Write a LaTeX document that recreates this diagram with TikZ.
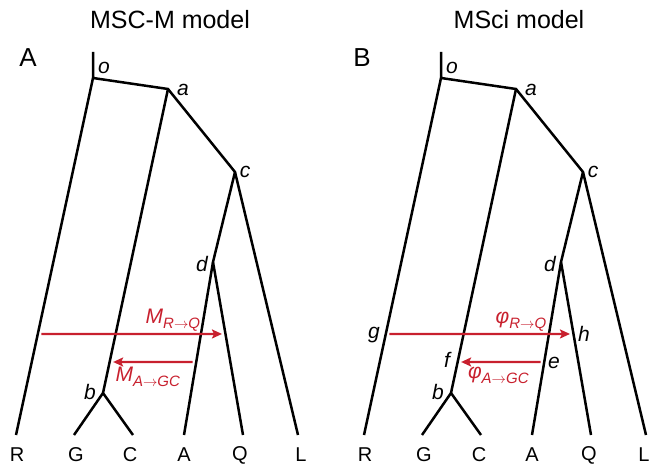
\documentclass[tikz,border=0pt]{standalone}
\usepackage{fontspec}
\setmainfont{Liberation Sans}
\usetikzlibrary{calc,arrows.meta}
\definecolor{migred}{RGB}{200,32,46}
\newcommand{\miglab}[3]{{\fontsize{21}{21}\selectfont\itshape #1}\raisebox{-5pt}{\fontsize{15}{15}\selectfont\itshape #2$\to$#3}}

\begin{document}
\begin{tikzpicture}[x=1pt, y=-1pt,
  branch/.style={line width=2.5pt, line join=miter},
  mig/.style={migred, line width=2.2pt, -{Stealth[length=10pt, width=9pt, inset=2pt]}, shorten <=3.5pt, shorten >=3.5pt},
  taxon/.style={font=\fontsize{20}{20}\selectfont, inner sep=0pt},
  lab/.style={font=\fontsize{21}{21}\selectfont\itshape, inner sep=0pt},
  miglabel/.style={text=migred, inner sep=0pt},
  title/.style={font=\fontsize{25}{25}\selectfont, inner sep=0pt},
  panel/.style={font=\fontsize{26}{26}\selectfont, inner sep=0pt}]

\useasboundingbox (0,0) rectangle (652,470);

% Titles and panel letters
\node[title] (titleA) at (170,20) {MSC-M model};
\node[title] (titleB) at (519,20) {MSci model};
\node[panel] (panelA) at (28,58) {A};
\node[panel] (panelB) at (362,58) {B};

% Define tree points, panel A
\coordinate (t1) at (93,52);
\coordinate (o1) at (93,78);
\coordinate (a1) at (168,89);
\coordinate (c1) at (235,172);
\coordinate (d1) at (213,262);
\coordinate (b1) at (103,393);
\coordinate (R1) at (16,435);
\coordinate (G1) at (74,435);
\coordinate (C1) at (133,435);
\coordinate (A1) at (184,435);
\coordinate (Q1) at (243,435);
\coordinate (L1) at (298,435);
\coordinate (g1) at ($(o1)!0.717!(R1)$);
\coordinate (h1) at ($(d1)!0.416!(Q1)$);
\coordinate (f1) at ($(a1)!0.898!(b1)$);
\coordinate (e1) at ($(d1)!0.578!(A1)$);

% Define tree points, panel B
\coordinate (t2) at (441,52);
\coordinate (o2) at (441,78);
\coordinate (a2) at (516,89);
\coordinate (c2) at (583,172);
\coordinate (d2) at (561,262);
\coordinate (b2) at (451,393);
\coordinate (R2) at (364,435);
\coordinate (G2) at (422,435);
\coordinate (C2) at (481,435);
\coordinate (A2) at (532,435);
\coordinate (Q2) at (591,435);
\coordinate (L2) at (646,435);
\coordinate (g2) at ($(o2)!0.717!(R2)$);
\coordinate (h2) at ($(d2)!0.416!(Q2)$);
\coordinate (f2) at ($(a2)!0.898!(b2)$);
\coordinate (e2) at ($(d2)!0.578!(A2)$);

% Draw branches
\draw[branch] (t1) -- (o1) -- (a1) -- (c1) -- (L1);
\draw[branch] (o1) -- (R1);
\draw[branch] (a1) -- (b1) -- (G1);
\draw[branch] (b1) -- (C1);
\draw[branch] (c1) -- (d1) -- (A1);
\draw[branch] (d1) -- (Q1);

\draw[branch] (t2) -- (o2) -- (a2) -- (c2) -- (L2);
\draw[branch] (o2) -- (R2);
\draw[branch] (a2) -- (b2) -- (G2);
\draw[branch] (b2) -- (C2);
\draw[branch] (c2) -- (d2) -- (A2);
\draw[branch] (d2) -- (Q2);

% Node labels
\node[lab] (lo1) at (104,68) {o};
\node[lab] (la1) at (183,90) {a};
\node[lab] (lc1) at (245,172) {c};
\node[lab] (ld1) at (202,264) {d};
\node[lab] (lb1) at (90,392) {b};

\node[lab] (lo2) at (452,68) {o};
\node[lab] (la2) at (531,90) {a};
\node[lab] (lc2) at (593,172) {c};
\node[lab] (ld2) at (550,264) {d};
\node[lab] (lb2) at (438,392) {b};
\node[lab] (lg2) at (374,335) {g};
\node[lab] (lh2) at (584,334) {h};
\node[lab] (lf2) at (447,360) {f};
\node[lab] (le2) at (554,363) {e};

% Taxon names
\node[taxon] (nR1) at (17,455) {R};
\node[taxon] (nG1) at (76,455) {G};
\node[taxon] (nC1) at (130,455) {C};
\node[taxon] (nA1) at (184,455) {A};
\node[taxon] (nQ1) at (240,455) {Q};
\node[taxon] (nL1) at (301,455) {L};

\node[taxon] (nR2) at (365,455) {R};
\node[taxon] (nG2) at (424,455) {G};
\node[taxon] (nC2) at (479,455) {C};
\node[taxon] (nA2) at (532,455) {A};
\node[taxon] (nQ2) at (589,455) {Q};
\node[taxon] (nL2) at (644,455) {L};

% Migration and introgression
\draw[mig] (g1) -- node[miglabel, pos=0.72, above=2pt] {\miglab{M}{R}{Q}} (h1);
\draw[mig] (e1) -- node[miglabel, pos=0.56, below=4pt] {\miglab{M}{A}{GC}} (f1);

\draw[mig] (g2) -- node[miglabel, pos=0.72, above=2pt] {\miglab{φ}{R}{Q}} (h2);
\draw[mig] (e2) -- node[miglabel, pos=0.53, below=4pt] {\miglab{φ}{A}{GC}} (f2);

\end{tikzpicture}
\end{document}
